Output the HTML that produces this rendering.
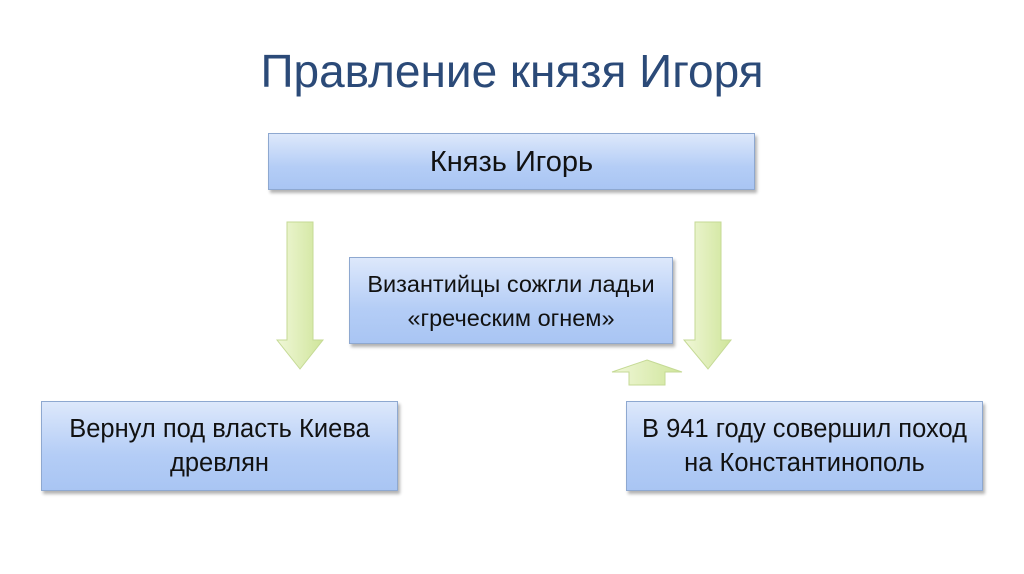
<!DOCTYPE html>
<html><head><meta charset="utf-8"><style>
body{margin:0;width:1024px;height:574px;background:#fff;position:relative;overflow:hidden;font-family:"Liberation Sans",sans-serif}
.t{position:absolute;left:0;width:1024px;top:44px;text-align:center;font-size:46px;color:#2b4a78}
.b{position:absolute;box-sizing:border-box;border:1px solid #8ea8d0;background:linear-gradient(#dde8fb,#b4cdf6 60%,#a9c5f3);box-shadow:2px 3px 3px rgba(0,0,0,.3);display:flex;align-items:center;justify-content:center;text-align:center;color:#111;font-size:23.5px;line-height:34px}
</style></head><body>
<div class="t">Правление князя Игоря</div>
<div class="b" style="left:268px;top:133px;width:487px;height:57px;font-size:29px">Князь Игорь</div>
<div class="b" style="left:349px;top:257px;width:324px;height:87px">Византийцы сожгли ладьи<br>«греческим огнем»</div>
<div class="b" style="left:41px;top:401px;width:357px;height:90px;font-size:25.5px">Вернул под власть Киева<br>древлян</div>
<div class="b" style="left:626px;top:401px;width:357px;height:90px;font-size:25.5px">В 941 году совершил поход<br>на Константинополь</div>
<svg width="1024" height="574" style="position:absolute;left:0;top:0">
<defs><linearGradient id="g" x1="0" x2="1"><stop offset="0" stop-color="#f0f7d8"/><stop offset="1" stop-color="#cfe59a"/></linearGradient></defs>
<g fill="url(#g)" stroke="#c5da95" stroke-width="1">
<polygon points="287,222 313,222 313,340 323,340 300,369 277,340 287,340"/>
<polygon points="695,222 721,222 721,340 731,340 708,369 684,340 695,340"/>
<polygon points="647,360 682,372 665,372 665,385 629,385 629,372 612,372"/>
</g></svg>
</body></html>
